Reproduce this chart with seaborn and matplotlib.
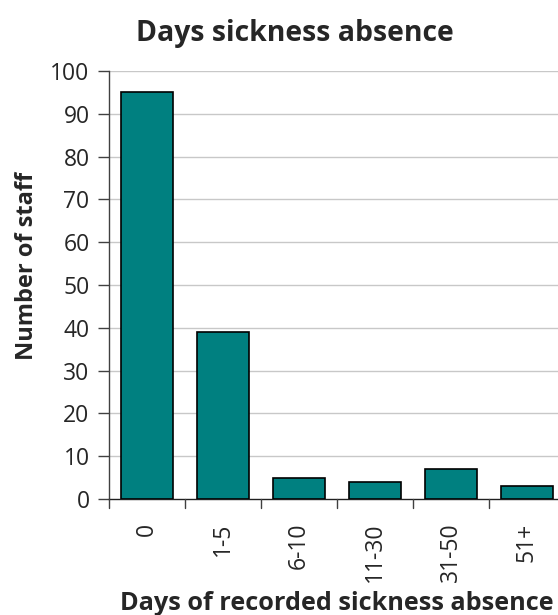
import matplotlib
matplotlib.use("Agg")
import matplotlib.pyplot as plt
import seaborn as sns
import pandas as pd

# Staff counts by days of recorded sickness absence
categories = ["0", "1-5", "6-10", "11-30", "31-50", "51+"]
staff_counts = [95, 39, 5, 4, 7, 3]
y_ticks = [0, 10, 20, 30, 40, 50, 60, 70, 80, 90, 100]

df = pd.DataFrame({"days": categories, "staff": staff_counts})

sns.set_theme(style="white")
plt.rcParams["font.family"] = ["Open Sans", "DejaVu Sans"]

fig = plt.figure(figsize=(5.58, 6.15), dpi=100)
ax = fig.add_axes([109 / 558, 1 - 499 / 615, 456 / 558, 428 / 615])

sns.barplot(data=df, x="days", y="staff", color="#008080", saturation=1,
            width=0.69, edgecolor="black", linewidth=1.2, ax=ax, zorder=3)

ax.set_xlim(-0.5, 5.5)
ax.set_ylim(0, 100)
ax.set_yticks(y_ticks)
ax.set_yticklabels([str(v) for v in y_ticks], fontsize=16.5)

# grid lines behind the bars
for v in y_ticks[1:]:
    ax.axhline(v, color="#c8c8c8", linewidth=1, zorder=0)

# category labels at centres, tick marks on the boundaries
ax.set_xticks(range(len(categories)))
ax.set_xticklabels(categories, rotation=90, fontsize=16.5)
ax.tick_params(axis="x", length=0, pad=17)
for b in [x - 0.5 for x in range(len(categories) + 1)]:
    ax.plot([b, b], [0, -2], color="#404040", linewidth=1, clip_on=False, zorder=4)

ax.tick_params(axis="y", direction="out", length=8, width=1, color="#404040",
               left=True, pad=6)

for side in ["top", "right"]:
    ax.spines[side].set_visible(False)
ax.spines["left"].set_color("#404040")
ax.spines["bottom"].set_color("#202020")
ax.spines["left"].set_linewidth(1)
ax.spines["bottom"].set_linewidth(1)

ax.set_xlabel("Days of recorded sickness absence", fontsize=18.2, fontweight="bold",
              labelpad=6)
ax.set_ylabel("Number of staff", fontsize=17, fontweight="bold", labelpad=10)
ax.yaxis.set_label_coords(-0.154, 0.545)
fig.text(295 / 558, 1 - 34 / 615, "Days sickness absence", fontsize=20.4,
         fontweight="bold", ha="center", va="center")

fig.savefig("out.png", dpi=100)
